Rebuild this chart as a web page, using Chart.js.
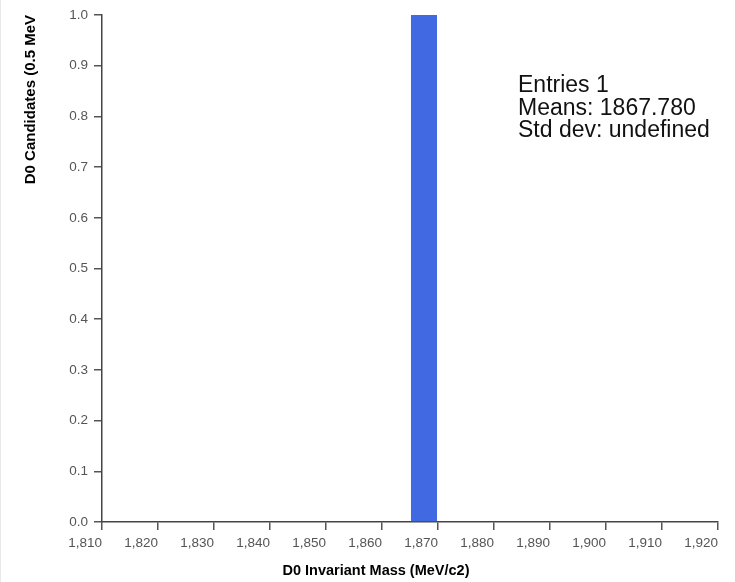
<!DOCTYPE html>
<html>
<head>
<meta charset="utf-8">
<script src="https://cdn.jsdelivr.net/npm/chart.js@4"></script>
<style>
    body { margin: 0; background: #fff; }
    #wrap { width: 735px; height: 582px; position: relative; }
    #wrap::after { content: ''; position: absolute; left: 0; top: 0; bottom: 0; width: 1px; background: #e8e8e8; }
</style>
</head>
<body>
<div id="wrap"><canvas id="massChart" width="735" height="582"></canvas></div>
<script>
// histogram bins (5 MeV wide), centre of each bin
const binCenters = [1812.5, 1817.5, 1822.5, 1827.5, 1832.5, 1837.5, 1842.5, 1847.5, 1852.5, 1857.5, 1862.5,
    1867.5, 1872.5, 1877.5, 1882.5, 1887.5, 1892.5, 1897.5, 1902.5, 1907.5, 1912.5, 1917.5];
const binCounts = [0, 0, 0, 0, 0, 0, 0, 0, 0, 0, 0,
    1, 0, 0, 0, 0, 0, 0, 0, 0, 0, 0];
const xTicks = [1810, 1820, 1830, 1840, 1850, 1860, 1870, 1880, 1890, 1900, 1910, 1920];
const yTicks = [0, 0.1, 0.2, 0.3, 0.4, 0.5, 0.6, 0.7, 0.8, 0.9, 1.0];
const statsLines = ['Entries 1', 'Means: 1867.780', 'Std dev: undefined'];
const xTitle = 'D0 Invariant Mass (MeV/c2)';
const yTitle = 'D0 Candidates (0.5 MeV';

const fontFamily = '"Liberation Sans", Arial, Helvetica, sans-serif';

// stats box text in the upper right + the x axis title (sits left of centre in the original)
const textPlugin = {
    id: 'extraText',
    afterDraw(chart) {
        const ctx = chart.ctx;
        const area = chart.chartArea;
        ctx.save();
        ctx.fillStyle = '#111';
        ctx.font = '23px ' + fontFamily;
        ctx.textAlign = 'left';
        ctx.textBaseline = 'alphabetic';
        statsLines.forEach((line, i) => {
            ctx.fillText(line, area.left + 416, area.top + 77 + i * 22.5);
        });

        ctx.fillStyle = '#000';
        ctx.font = 'bold 14.5px ' + fontFamily;
        ctx.textAlign = 'center';
        ctx.textBaseline = 'middle';
        ctx.fillText(xTitle, area.left + 274, area.bottom + 49);
        ctx.restore();
    }
};

document.addEventListener('DOMContentLoaded', function () {
    const ctx = document.getElementById('massChart').getContext('2d');
    new Chart(ctx, {
        type: 'bar',
        data: {
            datasets: [{
                data: binCenters.map((x, i) => ({ x: x, y: binCounts[i] })),
                backgroundColor: '#4169e1',
                borderWidth: 0,
                barPercentage: 0.93,
                categoryPercentage: 1.0
            }]
        },
        options: {
            responsive: false,
            animation: false,
            layout: { padding: { top: 15, right: 17, bottom: 0, left: 0 } },
            plugins: {
                legend: { display: false },
                tooltip: { enabled: false }
            },
            scales: {
                x: {
                    type: 'linear',
                    min: 1810,
                    max: 1920,
                    offset: false,
                    afterBuildTicks: scale => { scale.ticks = xTicks.map(v => ({ value: v })); },
                    afterFit: scale => { scale.height = 60; },
                    grid: { offset: false, drawOnChartArea: false, drawTicks: true, tickLength: 8, color: '#555', lineWidth: 1.5 },
                    border: { color: '#444', width: 1.5 },
                    ticks: {
                        align: 'end',
                        padding: 5,
                        color: '#555',
                        font: { family: fontFamily, size: 13.5 },
                        maxRotation: 0,
                        callback: v => v.toLocaleString('en-US')
                    },
                    title: { display: false }
                },
                y: {
                    min: 0,
                    max: 1,
                    afterBuildTicks: scale => { scale.ticks = yTicks.map(v => ({ value: v })); },
                    afterFit: scale => { scale.width = 102; },
                    grid: { drawOnChartArea: false, drawTicks: true, tickLength: 8, color: '#555', lineWidth: 1.5 },
                    border: { color: '#444', width: 1.5 },
                    ticks: {
                        padding: 6,
                        color: '#555',
                        font: { family: fontFamily, size: 13.5 },
                        callback: v => v.toFixed(1)
                    },
                    title: {
                        display: true,
                        text: yTitle,
                        align: 'end',
                        color: '#000',
                        font: { family: fontFamily, size: 15, weight: 'bold' },
                        padding: { top: 22, bottom: 0 }
                    }
                }
            }
        },
        plugins: [textPlugin]
    });
});
</script>
</body>
</html>
